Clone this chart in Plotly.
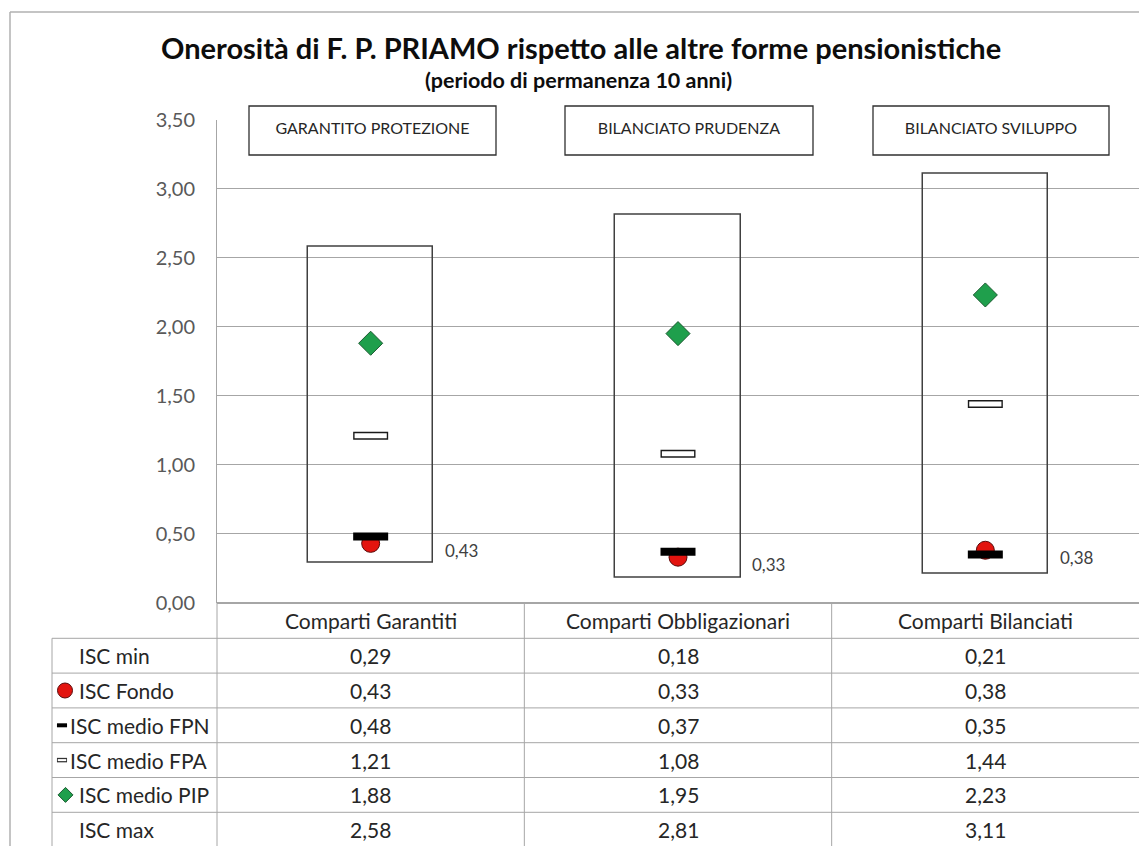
import plotly.graph_objects as go

# ---------------- data ----------------
categories = ["Comparti Garantiti", "Comparti Obbligazionari", "Comparti Bilanciati"]
box_titles = ["GARANTITO PROTEZIONE", "BILANCIATO PRUDENZA", "BILANCIATO SVILUPPO"]
row_labels = ["ISC min", "ISC Fondo", "ISC medio FPN", "ISC medio FPA", "ISC medio PIP", "ISC max"]
isc_min = [0.29, 0.18, 0.21]
isc_fondo = [0.43, 0.33, 0.38]
isc_fpn = [0.48, 0.37, 0.35]
isc_fpa = [1.21, 1.08, 1.44]
isc_pip = [1.88, 1.95, 2.23]
isc_max = [2.58, 2.81, 3.11]
y_ticks = [0.0, 0.5, 1.0, 1.5, 2.0, 2.5, 3.0, 3.5]

title_text = "Onerosità di F. P. PRIAMO rispetto alle altre forme pensionistiche"
subtitle_text = "(periodo di permanenza 10 anni)"

# ---------------- layout geometry (pixels) ----------------
W, H = 1139, 846
AX_L, AX_R = 217, 1139
Y_BOT, Y_TOP = 602.7, 119.7
TBL_L = 52
HDR_BOT = 638.3
ROW_H = 34.8
COL_W = (AX_R - AX_L) / 3.0
FONT = "Lato, Carlito, Calibri, sans-serif"
GRID = "#a6a6a6"
TXT = "#262626"


def px(x):
    return x / W


def py(y):
    return 1 - y / H


def fmt(v):
    return f"{v:.2f}".replace(".", ",")


n = len(categories)
xs = list(range(n))

fig = go.Figure()

# range box (min -> max)
fig.add_trace(go.Bar(
    x=xs, y=[mx - mn for mx, mn in zip(isc_max, isc_min)], base=isc_min,
    width=0.407, marker=dict(color="rgba(0,0,0,0)", line=dict(color="#404040", width=1.5)),
    showlegend=False, hoverinfo="skip"))

# ISC Fondo (red circle)
fig.add_trace(go.Scatter(
    x=xs, y=isc_fondo, mode="markers", name="ISC Fondo",
    marker=dict(symbol="circle", size=18, color="#e3140f", line=dict(color="#5a0a0a", width=1)),
    showlegend=False))

# ISC medio FPN (black dash)
fig.add_trace(go.Scatter(
    x=xs, y=isc_fpn, mode="markers", name="ISC medio FPN",
    marker=dict(symbol="line-ew", size=25, color="#000000", line=dict(color="#000000", width=8)),
    showlegend=False))

# ISC medio FPA (white rectangle with black border)
fig.add_trace(go.Scatter(
    x=xs, y=isc_fpa, mode="markers", name="ISC medio FPA",
    marker=dict(symbol="line-ew", size=25, color="#000000", line=dict(color="#1a1a1a", width=8)),
    showlegend=False))
fig.add_trace(go.Scatter(
    x=xs, y=isc_fpa, mode="markers", hoverinfo="skip",
    marker=dict(symbol="line-ew", size=23, color="#ffffff", line=dict(color="#ffffff", width=5)),
    showlegend=False))

# ISC medio PIP (green diamond)
fig.add_trace(go.Scatter(
    x=xs, y=isc_pip, mode="markers", name="ISC medio PIP",
    marker=dict(symbol="diamond", size=18.5, color="#1f9f4c", line=dict(color="#1b5a30", width=1)),
    showlegend=False))

annotations = []

# value labels of the fund
for i, v in enumerate(isc_fondo):
    annotations.append(dict(
        x=i + 0.235, y=v, xref="x", yref="y", text=fmt(v), showarrow=False,
        xanchor="left", yanchor="middle", yshift=-7,
        font=dict(family=FONT, size=17, color="#404040")))

# title / subtitle
annotations.append(dict(
    x=px(581), y=py(47), xref="paper", yref="paper", text=f"<b>{title_text}</b>",
    showarrow=False, xanchor="center", yanchor="middle",
    font=dict(family=FONT, size=29, color="#0d0d0d")))
annotations.append(dict(
    x=px(578), y=py(80), xref="paper", yref="paper", text=f"<b>{subtitle_text}</b>",
    showarrow=False, xanchor="center", yanchor="middle",
    font=dict(family=FONT, size=21.5, color="#0d0d0d")))

# boxed titles over each category
box_px = [(249, 496), (565, 813), (873, 1109)]
for t, (x0, x1) in zip(box_titles, box_px):
    annotations.append(dict(
        x=px((x0 + x1) / 2), y=py(130), xref="paper", yref="paper", text=t,
        showarrow=False, xanchor="center", yanchor="middle", yshift=3,
        width=x1 - x0 - 2, height=46, borderpad=0, align="center", valign="middle",
        bgcolor="rgba(0,0,0,0)", bordercolor="rgba(0,0,0,0)", borderwidth=0,
        font=dict(family=FONT, size=16, color=TXT)))

# data table: headers
for i, c in enumerate(categories):
    annotations.append(dict(
        x=px(AX_L + (i + 0.5) * COL_W), y=py((Y_BOT + HDR_BOT) / 2), xref="paper", yref="paper",
        text=c, showarrow=False, xanchor="center", yanchor="middle",
        font=dict(family=FONT, size=21, color=TXT)))

series = [isc_min, isc_fondo, isc_fpn, isc_fpa, isc_pip, isc_max]
label_x = [77, 77, 68, 68, 77, 77]   # text start follows the width of each legend key
for r, (lab, vals) in enumerate(zip(row_labels, series)):
    yc = HDR_BOT + (r + 0.5) * ROW_H
    annotations.append(dict(
        x=px(label_x[r]), y=py(yc), xref="paper", yref="paper", text=lab,
        showarrow=False, xanchor="left", yanchor="middle",
        font=dict(family=FONT, size=21, color=TXT)))
    for i, v in enumerate(vals):
        annotations.append(dict(
            x=px(AX_L + (i + 0.5) * COL_W), y=py(yc), xref="paper", yref="paper",
            text=fmt(v), showarrow=False, xanchor="center", yanchor="middle",
            font=dict(family=FONT, size=21, color=TXT)))

# legend keys inside the table (pixel axis x2/y2)
def row_c(r):
    return HDR_BOT + (r + 0.5) * ROW_H

fig.add_trace(go.Scatter(x=[65], y=[row_c(1)], xaxis="x2", yaxis="y2", mode="markers",
                         marker=dict(symbol="circle", size=15, color="#e3140f",
                                     line=dict(color="#5a0a0a", width=1)),
                         showlegend=False, hoverinfo="skip"))
fig.add_trace(go.Scatter(x=[62], y=[row_c(2)], xaxis="x2", yaxis="y2", mode="markers",
                         marker=dict(symbol="line-ew", size=7.2, color="#000",
                                     line=dict(color="#000", width=4)),
                         showlegend=False, hoverinfo="skip"))
fig.add_trace(go.Scatter(x=[62], y=[row_c(3)], xaxis="x2", yaxis="y2", mode="markers",
                         marker=dict(symbol="line-ew", size=7.2, color="#333",
                                     line=dict(color="#333", width=4.5)),
                         showlegend=False, hoverinfo="skip"))
fig.add_trace(go.Scatter(x=[62], y=[row_c(3)], xaxis="x2", yaxis="y2", mode="markers",
                         marker=dict(symbol="line-ew", size=6.0, color="#fff",
                                     line=dict(color="#fff", width=2)),
                         showlegend=False, hoverinfo="skip"))
fig.add_trace(go.Scatter(x=[65.5], y=[row_c(4)], xaxis="x2", yaxis="y2", mode="markers",
                         marker=dict(symbol="diamond", size=11.5, color="#1f9f4c",
                                     line=dict(color="#1b5a30", width=1)),
                         showlegend=False, hoverinfo="skip"))

# shapes: frame, title boxes and table lines
shapes = []
FRAME = "#b0b0b0"
shapes.append(dict(type="line", xref="paper", yref="paper", x0=px(10), x1=px(W + 5), y0=py(12), y1=py(12),
                   line=dict(color=FRAME, width=1.5)))
shapes.append(dict(type="line", xref="paper", yref="paper", x0=px(10), x1=px(10), y0=py(12), y1=py(H + 5),
                   line=dict(color=FRAME, width=1.5)))
for (x0, x1) in box_px:
    shapes.append(dict(type="rect", xref="paper", yref="paper", x0=px(x0), x1=px(x1),
                       y0=py(155), y1=py(106), fillcolor="#ffffff",
                       line=dict(color="#303030", width=1.3), layer="above"))
for k in range(7):
    yy = HDR_BOT + k * ROW_H
    shapes.append(dict(type="line", xref="paper", yref="paper", x0=px(TBL_L), x1=px(W + 5),
                       y0=py(yy), y1=py(yy), line=dict(color=GRID, width=1)))
shapes.append(dict(type="line", xref="paper", yref="paper", x0=px(TBL_L), x1=px(TBL_L),
                   y0=py(HDR_BOT), y1=py(H + 5), line=dict(color=GRID, width=1)))
for i in range(3):
    xx = AX_L + i * COL_W
    shapes.append(dict(type="line", xref="paper", yref="paper", x0=px(xx), x1=px(xx),
                       y0=py(Y_BOT), y1=py(H + 5), line=dict(color=GRID, width=1)))

fig.update_layout(
    width=W, height=H,
    margin=dict(l=0, r=0, t=0, b=0, autoexpand=False),
    paper_bgcolor="#ffffff", plot_bgcolor="rgba(0,0,0,0)",
    separators=",.",
    showlegend=False,
    bargap=0,
    xaxis=dict(domain=[px(AX_L), 1.0], range=[-0.5, 2.5], showticklabels=False, showgrid=False,
               zeroline=False, showline=False, fixedrange=True),
    yaxis=dict(domain=[py(Y_BOT), py(Y_TOP)], range=[0, 3.5], tickvals=y_ticks, tickformat=".2f",
               showgrid=True, gridcolor=GRID, gridwidth=1, zeroline=True, zerolinecolor=GRID,
               showline=True, linecolor=GRID, linewidth=1, ticks="", ticklabelstandoff=17,
               tickfont=dict(family=FONT, size=20, color="#595959"), fixedrange=True),
    xaxis2=dict(domain=[0, 1], range=[0, W], visible=False, fixedrange=True, anchor="y2"),
    yaxis2=dict(domain=[0, 1], range=[H, 0], visible=False, fixedrange=True, anchor="x2"),
    annotations=annotations,
    shapes=shapes,
)

fig.write_html(
    "out.html",
    config={"displayModeBar": False},
    post_script="document.body.style.margin='0px';document.body.style.overflow='hidden';",
)
